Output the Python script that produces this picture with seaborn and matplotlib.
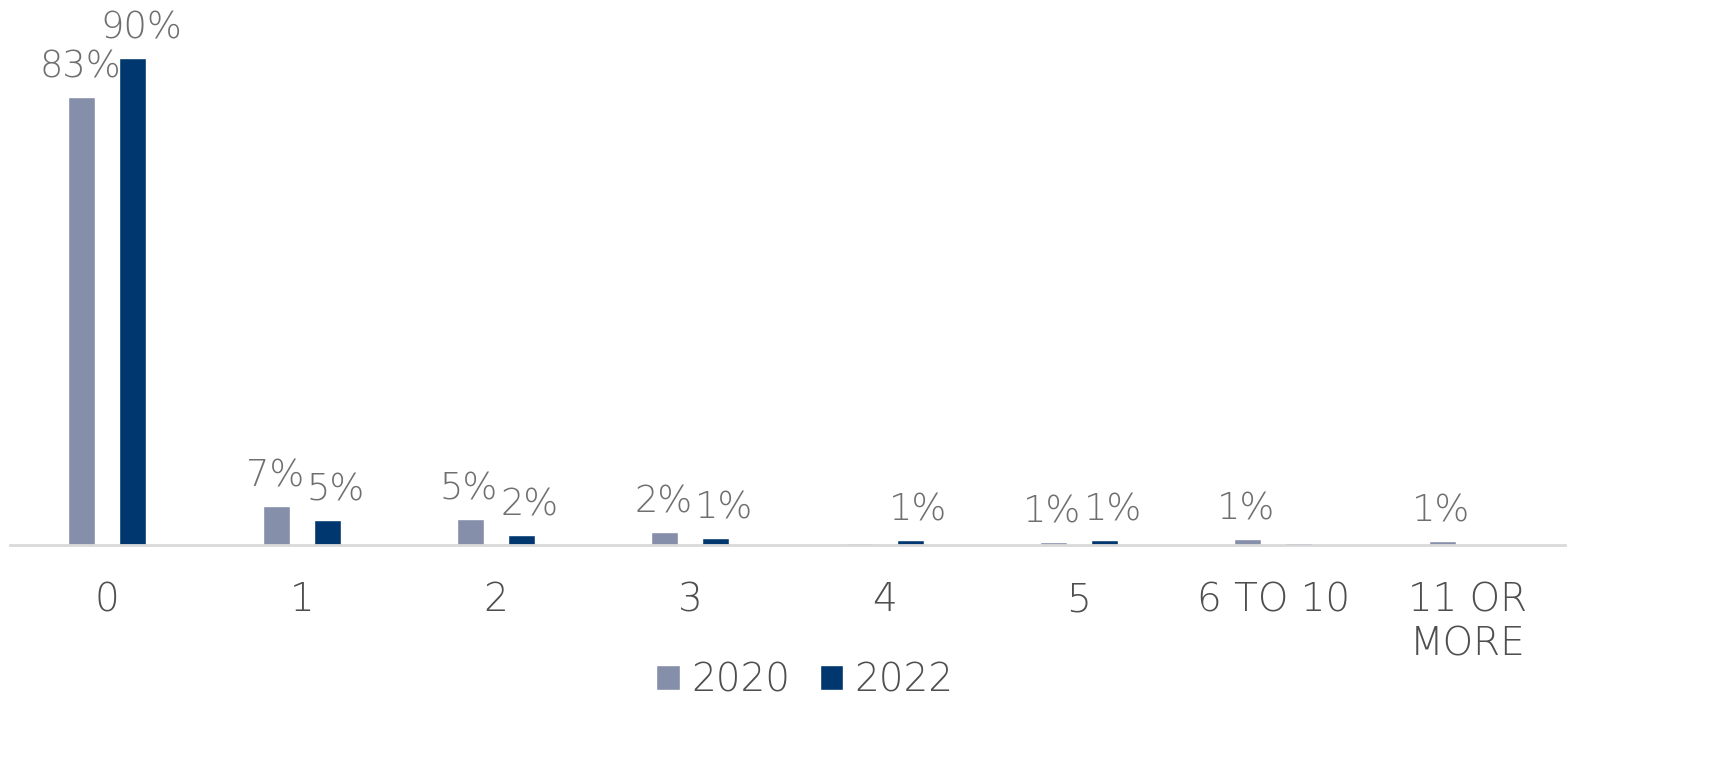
import pandas as pd
import numpy as np
import matplotlib.pyplot as plt
import seaborn as sns

# ---------------------------------------------------
# Data (share of respondents, %)
# ---------------------------------------------------
categories = ["0", "1", "2", "3", "4", "5", "6 TO 10", "11 OR\nMORE"]
years = ["2020", "2022"]
values_2020 = [82.8, 7.2, 4.8, 2.4, 0.3, 0.6, 1.1, 0.7]
values_2022 = [90.0, 4.6, 1.8, 1.3, 0.9, 0.9, 0.3, 0.0]
labels_2020 = ["83%", "7%", "5%", "2%", "", "1%", "1%", "1%"]
labels_2022 = ["90%", "5%", "2%", "1%", "1%", "1%", "", ""]

df = pd.DataFrame({
    "Category": categories * 2,
    "Year": [years[0]] * len(categories) + [years[1]] * len(categories),
    "Value": values_2020 + values_2022,
})

sns.set_style("white")
plt.rcParams["font.family"] = ["DejaVu Sans"]
plt.rcParams["font.weight"] = "light"

colors = {"2020": "#868FAA", "2022": "#00376F"}
label_color = "#6F6F6F"
tick_color = "#4F4F4F"

fig = plt.figure(figsize=(17.35, 7.66), dpi=100)
ax = fig.add_axes([10 / 1735, 1 - 545 / 766, 1555 / 1735, 541 / 766])

sns.barplot(data=df, x="Category", y="Value", hue="Year", palette=colors,
            width=0.525, gap=0.47, saturation=1, ax=ax, legend=True)

# data labels (2022 labels nudged right a little, like the original)
for container, labs, dx in zip(ax.containers, [labels_2020, labels_2022], [-1, 6]):
    for bar, lab in zip(container, labs):
        if not lab:
            continue
        ax.annotate(lab, (bar.get_x() + bar.get_width() / 2, bar.get_height()),
                    xytext=(dx, 9), textcoords="offset points", ha="center", va="bottom",
                    fontsize=26.5, color=label_color, fontweight="light")

ax.set_ylim(0, 100)
ax.set_xlim(-0.5, len(categories) - 0.5)
ax.set_xlabel("")
ax.set_ylabel("")
ax.set_yticks([])
for side in ["left", "right", "top"]:
    ax.spines[side].set_visible(False)
ax.spines["bottom"].set_color("#D9D9D9")
ax.spines["bottom"].set_linewidth(2)
ax.tick_params(axis="x", length=0, pad=26, labelsize=28, labelcolor=tick_color)
for t in ax.get_xticklabels():
    t.set_linespacing(1.2)
    t.set_verticalalignment("top")

# legend at bottom
handles, lbls = ax.get_legend_handles_labels()
ax.legend(handles, lbls, loc="center", bbox_to_anchor=(805 / 1735, 1 - 680 / 766),
          bbox_transform=fig.transFigure, ncol=2, frameon=False, fontsize=28,
          handlelength=0.6, handleheight=0.6, handletextpad=0.3, columnspacing=0.75,
          labelcolor=tick_color)

plt.savefig("out.png", dpi=100)
